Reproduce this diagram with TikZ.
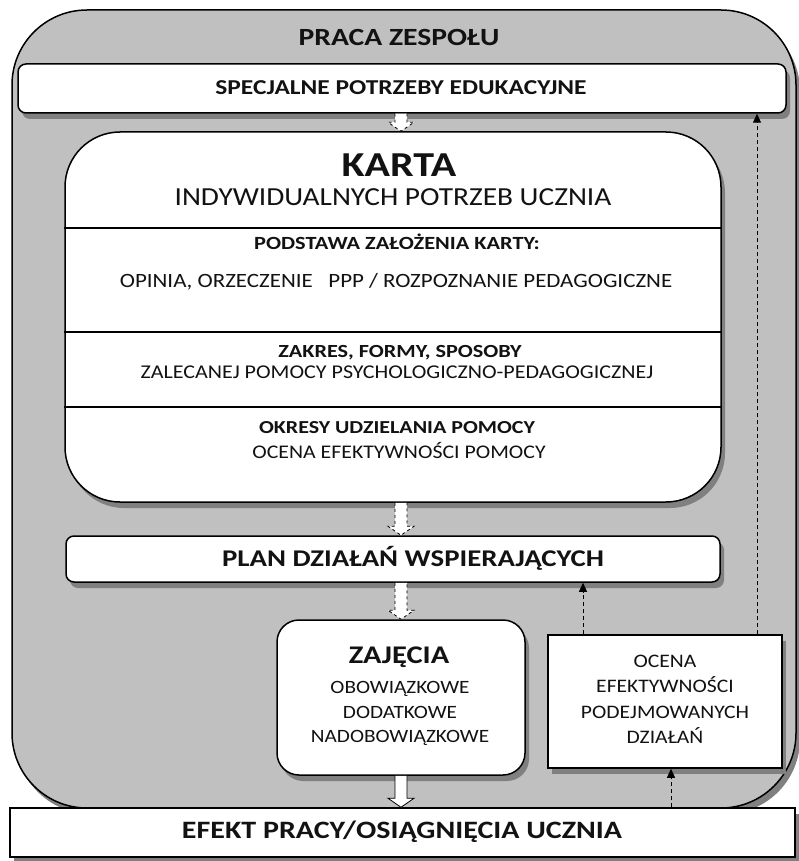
\documentclass[tikz,border=0pt]{standalone}
\usepackage{fontspec}
\setmainfont[FakeStretch=1.13, BoldFeatures={FakeStretch=1.2}]{Carlito}
\usepackage{tikz}
\usetikzlibrary{calc,shadows,arrows.meta}

\definecolor{panelgray}{RGB}{192,192,192}
\definecolor{shadegray}{RGB}{128,128,128}
\definecolor{ink}{RGB}{18,18,18}

\tikzset{
	box/.style={draw=black, line width=1.5pt, fill=white, inner sep=0pt,
		drop shadow={shadow xshift=4pt, shadow yshift=-6pt, fill=shadegray, opacity=1}},
	lbl/.style={text=ink, inner sep=0pt, anchor=base},
	blockarr/.style={draw=black, line width=0.8pt, fill=white,
		to path={let \p1=(\tikztostart), \p2=(\tikztotarget) in
			(\x1-6pt,\y1) -- (\x1-6pt,\y2+9pt) -- (\x1-13pt,\y2+9pt) -- (\x1,\y2)
			-- (\x1+13pt,\y2+9pt) -- (\x1+6pt,\y2+9pt) -- (\x1+6pt,\y1)}},
	dasharr/.style={draw=black, line width=1pt, dash pattern=on 4pt off 3pt, -{Triangle[length=9pt,width=8pt]}}
}

\newcommand{\fs}[1]{\fontsize{#1}{#1}\selectfont}

\begin{document}
\begin{tikzpicture}[x=1pt,y=-1pt]
	\useasboundingbox (0,0) rectangle (799,861);
	% Team panel
	\node[box, fill=panelgray, rounded corners=75pt, minimum width=784pt, minimum height=798pt] (praca) at (404,409) {};
	\node[lbl, font=\bfseries\fs{24.7}] (pracatxt) at (399,46) {PRACA ZESPOŁU};
	% Needs
	\node[box, rounded corners=8pt, minimum width=768pt, minimum height=49pt] (spec) at (402,88.5) {};
	\node[lbl, font=\bfseries\fs{21.2}] (spectxt) at (401,95) {SPECJALNE POTRZEBY EDUKACYJNE};
	% Card
	\node[box, rounded corners=55pt, minimum width=656pt, minimum height=370pt] (karta) at (393,317) {};
	\foreach \yy in {228,332,407}
		\draw[line width=1.2pt] (karta.west |- 0,\yy) -- (karta.east |- 0,\yy);
	\node[lbl, font=\bfseries\fs{35}] (kartatxt) at (399,176) {KARTA};
	\node[lbl, font=\fs{26}] (indyw) at (393,205) {INDYWIDUALNYCH POTRZEB UCZNIA};
	\node[lbl, font=\bfseries\fs{18.6}] (podst) at (397,249) {PODSTAWA ZAŁOŻENIA KARTY:};
	\node[lbl, font=\fs{20.3}] (opinia) at (396,287) {OPINIA, ORZECZENIE\ \ \ PPP / ROZPOZNANIE PEDAGOGICZNE};
	\node[lbl, font=\bfseries\fs{18.5}] (zakres) at (400,357) {ZAKRES, FORMY, SPOSOBY};
	\node[lbl, font=\fs{19.5}] (zalec) at (397,378) {ZALECANEJ POMOCY PSYCHOLOGICZNO-PEDAGOGICZNEJ};
	\node[lbl, font=\bfseries\fs{18.3}] (okresy) at (397,433) {OKRESY UDZIELANIA POMOCY};
	\node[lbl, font=\fs{19.3}] (ocpom) at (399,458) {OCENA EFEKTYWNOŚCI POMOCY};
	% Plan
	\node[box, rounded corners=8pt, minimum width=654pt, minimum height=46pt] (plan) at (393,559) {};
	\node[lbl, font=\bfseries\fs{24}] (plantxt) at (413,566) {PLAN DZIAŁAŃ WSPIERAJĄCYCH};
	% Classes
	\node[box, rounded corners=22pt, minimum width=248pt, minimum height=155pt] (zaj) at (401,697.5) {};
	\node[lbl, font=\bfseries\fs{25.4}] (zajtxt) at (399,663) {ZAJĘCIA};
	\foreach \t [count=\i] in {OBOWIĄZKOWE,DODATKOWE,NADOBOWIĄZKOWE}
		\node[lbl, font=\fs{18.8}] (zaj\i) at (400,669+24.5*\i) {\t};
	% Evaluation
	\node[box, minimum width=234pt, minimum height=133pt] (ocena) at (665,701.5) {};
	\foreach \t [count=\i] in {OCENA,EFEKTYWNOŚCI,PODEJMOWANYCH,DZIAŁAŃ}
		\node[lbl, font=\fs{19.1}] (oc\i) at (665,641.5+25.5*\i) {\t};
	% Result
	\node[box, minimum width=785pt, minimum height=49pt] (efekt) at (402.5,832.5) {};
	\node[lbl, font=\bfseries\fs{25}] (efekttxt) at (402,838) {EFEKT PRACY/OSIĄGNIĘCIA UCZNIA};
	% Arrows
	\coordinate (col1) at (583,0);
	\coordinate (col2) at (757,0);
	\coordinate (col3) at (671,0);
	\draw[blockarr, dashed] (spec.south -| zaj.north) to (karta.north -| zaj.north);
	\draw[blockarr, dashed] (karta.south -| zaj.north) to (plan.north -| zaj.north);
	\draw[blockarr, dashed] (plan.south -| zaj.north) to (zaj.north);
	\draw[blockarr] (zaj.south) to (efekt.north);
	\draw[dasharr] (ocena.north -| col1) -- (plan.south -| col1);
	\draw[dasharr] (ocena.north -| col2) -- (spec.south -| col2);
	\draw[dasharr] (efekt.north -| col3) -- (ocena.south -| col3);
\end{tikzpicture}
\end{document}
